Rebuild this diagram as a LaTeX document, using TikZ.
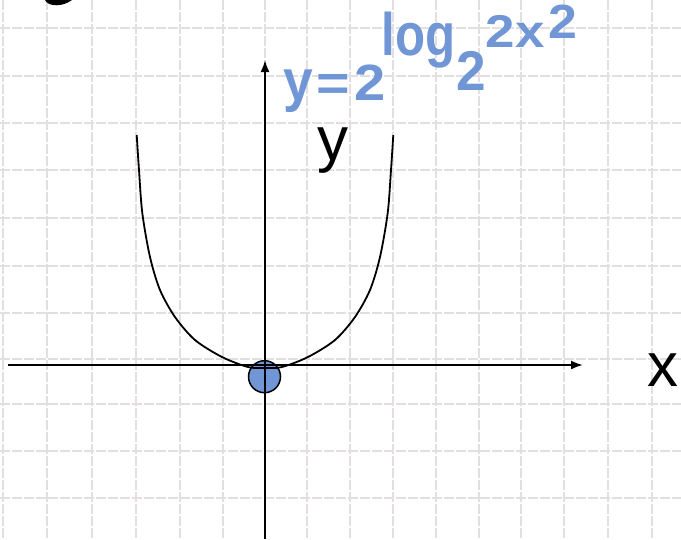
\documentclass[tikz,border=0pt]{standalone}
\usepackage{graphicx}
\usepackage{fontspec}
\setmainfont{Liberation Sans}
\usetikzlibrary{arrows.meta}
\definecolor{fblue}{RGB}{112,150,214}
\definecolor{paper}{RGB}{226,222,226}
\tikzset{
  gridline/.style={draw=paper, line width=1.6pt, dash pattern=on 10pt off 2pt},
  axis/.style={line width=2pt, -{Latex[length=12pt, width=9pt]}},
  curve/.style={line width=1.8pt},
  lbl/.style={inner sep=0pt, anchor=base west, font=\fontsize{62}{62}\selectfont},
  dot/.style={circle, draw, line width=1.5pt, fill=fblue, minimum size=32pt, inner sep=0pt}
}
% piece of the formula: x offset, raise, size, stretch, text
\newcommand{\fpart}[5]{\rlap{\hspace*{#1pt}\raisebox{#2pt}{\scalebox{#4}[1]{\fontsize{#3}{#3}\selectfont #5}}}}

\begin{document}
\begin{tikzpicture}[x=1pt, y=-1pt]
\useasboundingbox[fill=white] (0,0) rectangle (681,539);
% paper grid
\foreach \gx in {3,47,92,136,180,223,265,307,350,393,436,479,521,564,608,652}
  \draw[gridline] (\gx,0) -- (\gx,539);
\foreach \gy in {28,76,123,170,218,266,313,359,404,451,498}
  \draw[gridline] (0,\gy) -- (681,\gy);
% cut-off letter at the top
\fill (45,0) .. controls (48,7) and (63,7) .. (72,0) -- cycle;
% marked point
\node[dot] (origin) at (264.5,376.7) {};
\coordinate (xstart) at (8,365);
\coordinate (xend) at (583,365);
\coordinate (ystart) at (265,539);
\coordinate (yend) at (265,60);
\draw[axis] (xstart) -- (xend);
\draw[axis] (ystart) -- (yend);
\draw[curve] plot[smooth] coordinates {(136.7,135) (139,170) (142.3,213) (150,257) (160,290)
  (175,317) (195,340) (222,357) (248,367) (265,368) (282,367) (308,357) (335,340)
  (355,317) (370,290) (380,257) (387.7,213) (391,170) (393.3,135)};
\node[lbl] (ylabel) at (317,160) {y};
\node[lbl] (xlabel) at (647,386) {x};
\node[inner sep=0pt, anchor=base west, text=fblue, font=\bfseries] (formula) at (283,100)
  {\fpart{0}{0}{58}{0.92}{y}\fpart{33}{0}{50}{1.15}{=}\fpart{71}{0}{51}{1.1}{2}%
   \fpart{98}{45}{60}{0.82}{log}\fpart{173}{10}{56}{0.95}{2}%
   \fpart{202}{53}{46}{1.15}{2x}\fpart{265}{62}{48}{1.08}{2}};
\end{tikzpicture}
\end{document}
